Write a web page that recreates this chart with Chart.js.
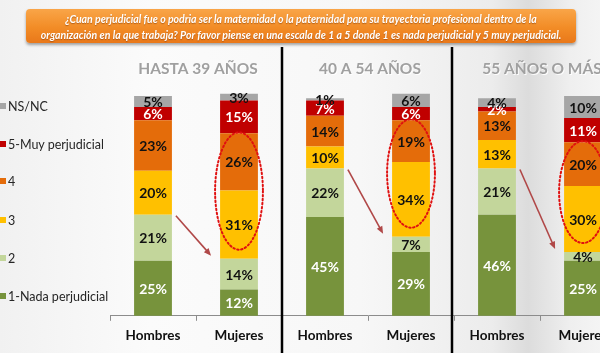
<!DOCTYPE html>
<html>
<head>
<meta charset="utf-8">
<script src="https://cdn.jsdelivr.net/npm/chart.js@4.4.1/dist/chart.umd.min.js"></script>
<style>
  html, body { margin: 0; padding: 0; }
  body {
    width: 600px; height: 353px; overflow: hidden; position: relative;
    background: linear-gradient(90deg, #f1f1f1 0%, #fbfbfb 25%, #f7f7f7 60%, #ececec 82%, #dcdcdc 88%, #efefef 95%, #f4f4f4 100%);
    font-family: Lato, "Open Sans", sans-serif;
  }
  #wrap { position: absolute; left: 0; top: 0; width: 630px; height: 353px; }
  #head {
    position: absolute; left: 26px; top: 9px; width: 550px; height: 34px;
    border-radius: 4px;
    background: linear-gradient(180deg, #f9a548 0%, #f28c26 55%, #e9781a 100%);
    box-shadow: 0 2px 3px rgba(0,0,0,0.35);
    color: #fff; font-style: italic; font-weight: bold; font-size: 10.5px;
    line-height: 16px; text-align: center; padding-top: 2px; box-sizing: border-box;
    text-shadow: 0 1px 1px rgba(120,50,0,0.5);
  }
  #legend { position: absolute; left: 0; top: 0; }
  .item { position: absolute; left: 0; white-space: nowrap; font-size: 12.5px; color: #262626; }
  .item span { display: inline-block; width: 6px; height: 6px; margin-right: 2px; vertical-align: 2px; }
</style>
</head>
<body>
<div id="wrap"><canvas id="stackChart" width="630" height="353"></canvas></div>
<div id="head">¿Cuan perjudicial fue o podria ser la maternidad o la paternidad para su trayectoria profesional dentro de la<br>organización en la que trabaja? Por favor piense en una escala de 1 a 5 donde 1 es nada perjudicial y 5 muy perjudicial.</div>
<div id="legend"></div>
<script>
var categories = ['Hombres', 'Mujeres', 'Hombres', 'Mujeres', 'Hombres', 'Mujeres'];
var groups = ['HASTA 39 AÑOS', '40 A 54 AÑOS', '55 AÑOS O MÁS'];

var nada   = [25, 12, 45, 29, 46, 25];
var dos    = [21, 14, 22, 7, 21, 4];
var tres   = [20, 31, 10, 34, 13, 30];
var cuatro = [23, 26, 14, 19, 13, 20];
var muy    = [6, 15, 7, 6, 2, 11];
var nsnc   = [5, 3, 1, 6, 4, 10];

var seriesNames  = ['1-Nada perjudicial', '2', '3', '4', '5-Muy perjudicial', 'NS/NC'];
var seriesColors = ['#77933c', '#c3d69b', '#ffc000', '#e46c0a', '#c00000', '#a6a6a6'];
var labelColors  = ['#ffffff', '#111111', '#111111', '#111111', '#ffffff', '#111111'];
var seriesData   = [nada, dos, tres, cuatro, muy, nsnc];

// legend on the left, top to bottom = NS/NC ... 1-Nada
var legendY = [99, 137, 174, 213, 251, 289];
var legend = document.getElementById('legend');
for (var i = seriesNames.length - 1; i >= 0; i--) {
    var d = document.createElement('div');
    d.className = 'item';
    d.style.top = legendY[seriesNames.length - 1 - i] + 'px';
    d.innerHTML = '<span style="background:' + seriesColors[i] + '"></span>' + seriesNames[i];
    legend.appendChild(d);
}

var decorations = {
    id: 'decorations',
    afterDatasetsDraw: function (chart) {
        var ctx = chart.ctx;
        var x = chart.scales.x, y = chart.scales.y;
        var bw = chart.getDatasetMeta(0).data[0].width;

        // dotted ellipses around 3 + 4 on the Mujeres bars
        ctx.save();
        ctx.strokeStyle = '#e01010';
        ctx.lineWidth = 2;
        ctx.setLineDash([1.5, 2.5]);
        ctx.lineCap = 'round';
        for (var g = 0; g < 3; g++) {
            var m = g * 2 + 1;
            var lo = nada[m] + dos[m];
            var hi = lo + tres[m] + cuatro[m];
            var top = y.getPixelForValue(hi) - 1;
            var bot = y.getPixelForValue(lo) - 9;
            ctx.beginPath();
            ctx.ellipse(x.getPixelForValue(m), (top + bot) / 2, bw / 2 + 5, (bot - top) / 2, 0, 0, Math.PI * 2);
            ctx.stroke();
        }
        ctx.restore();

        // arrows Hombres -> Mujeres
        ctx.save();
        ctx.strokeStyle = '#b04848';
        ctx.fillStyle = '#b04848';
        ctx.lineWidth = 1.6;
        for (var g = 0; g < 3; g++) {
            var h = g * 2, m = g * 2 + 1;
            var x1 = x.getPixelForValue(h) + bw / 2 + 4;
            var y1 = y.getPixelForValue(nada[h] + dos[h]) + 1;
            var x2 = x.getPixelForValue(m) - bw / 2 - 9;
            var y2 = y.getPixelForValue(nada[m] + dos[m]) - 3;
            var a = Math.atan2(y2 - y1, x2 - x1);
            ctx.beginPath();
            ctx.moveTo(x1, y1);
            ctx.lineTo(x2 - 5 * Math.cos(a), y2 - 5 * Math.sin(a));
            ctx.stroke();
            ctx.beginPath();
            ctx.moveTo(x2, y2);
            ctx.lineTo(x2 - 8 * Math.cos(a - 0.4), y2 - 8 * Math.sin(a - 0.4));
            ctx.lineTo(x2 - 8 * Math.cos(a + 0.4), y2 - 8 * Math.sin(a + 0.4));
            ctx.closePath();
            ctx.fill();
        }
        ctx.restore();

        // value labels
        ctx.save();
        ctx.font = 'bold 14px Lato';
        ctx.textAlign = 'center';
        ctx.textBaseline = 'middle';
        chart.data.datasets.forEach(function (ds, di) {
            chart.getDatasetMeta(di).data.forEach(function (bar, j) {
                ctx.fillStyle = labelColors[di];
                ctx.fillText(ds.data[j] + '%', bar.x, (bar.y + bar.base) / 2 + 1);
            });
        });
        ctx.restore();

        // group titles and dividers
        ctx.save();
        ctx.font = 'bold 15.5px Lato';
        ctx.textAlign = 'center';
        ctx.textBaseline = 'middle';
        for (var g = 0; g < 3; g++) {
            var cx = (x.getPixelForValue(g * 2) + x.getPixelForValue(g * 2 + 1)) / 2 + 2;
            ctx.fillStyle = 'rgba(255,255,255,0.9)';
            ctx.fillText(groups[g], cx + 1, 70);
            ctx.fillStyle = '#a0a0a0';
            ctx.fillText(groups[g], cx, 69);
        }
        ctx.strokeStyle = '#000';
        ctx.lineWidth = 2.5;
        [1, 3].forEach(function (k) {
            var dx = (x.getPixelForValue(k) + x.getPixelForValue(k + 1)) / 2 - (k - 1);
            ctx.beginPath();
            ctx.moveTo(dx, 47);
            ctx.lineTo(dx, 353);
            ctx.stroke();
        });
        ctx.restore();
    }
};

var ctxStack = document.getElementById('stackChart').getContext('2d');
var stackChart = new Chart(ctxStack, {
    type: 'bar',
    plugins: [decorations],
    data: {
        labels: categories,
        datasets: seriesData.map(function (arr, i) {
            return {
                label: seriesNames[i],
                data: arr,
                backgroundColor: seriesColors[i],
                barPercentage: 0.44,
                categoryPercentage: 1,
                clip: false
            };
        })
    },
    options: {
        responsive: false,
        animation: false,
        layout: { padding: { left: 110, right: 4, top: 96, bottom: 2 } },
        plugins: {
            legend: { display: false },
            title: { display: false },
            tooltip: { enabled: false }
        },
        scales: {
            x: {
                stacked: true,
                grid: { offset: true, drawOnChartArea: false, tickLength: 5, color: '#8c8c8c' },
                border: { color: '#8c8c8c' },
                ticks: { color: '#111', font: { family: 'Lato', size: 13.5, weight: 'bold' }, padding: 7 }
            },
            y: { stacked: true, min: 0, max: 100, display: false }
        }
    }
});
</script>
</body>
</html>
